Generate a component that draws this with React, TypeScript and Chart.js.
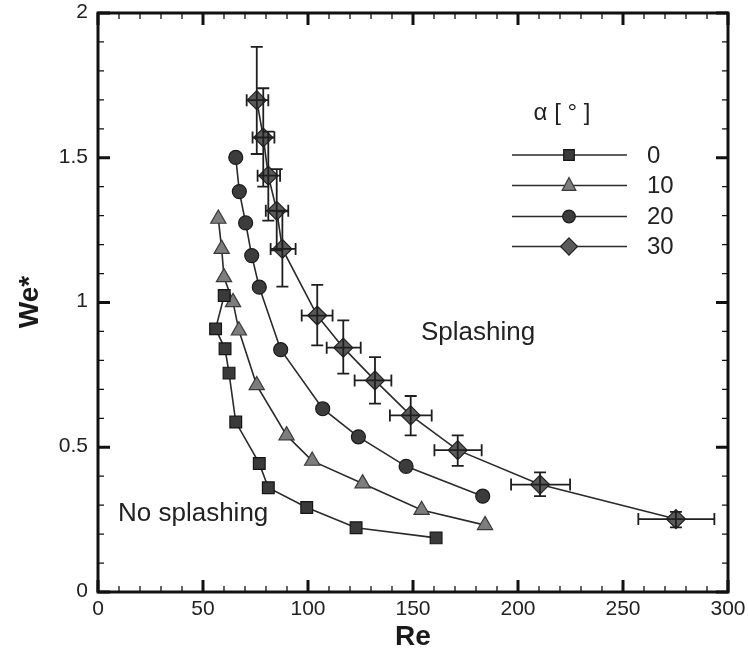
import React, { useEffect, useRef } from "react";
import { Chart, registerables } from "chart.js";

Chart.register(...registerables);

// ---- data ----
const seriesLabels = ["0", "10", "20", "30"];

const re0 = [60.1, 56.0, 60.5, 62.4, 65.6, 76.8, 81.1, 99.4, 122.9, 161.0];
const we0 = [1.024, 0.909, 0.84, 0.756, 0.587, 0.444, 0.36, 0.292, 0.222, 0.187];

const re10 = [57.3, 58.9, 60.0, 64.3, 67.1, 75.6, 89.8, 102.0, 126.0, 154.1, 184.3];
const we10 = [1.289, 1.185, 1.087, 1.001, 0.903, 0.714, 0.541, 0.453, 0.375, 0.283, 0.231];

const re20 = [65.6, 67.3, 70.3, 73.2, 76.8, 87.0, 107.0, 124.0, 146.7, 183.2];
const we20 = [1.501, 1.383, 1.275, 1.162, 1.053, 0.837, 0.633, 0.536, 0.434, 0.331];

const re30 = [75.6, 78.7, 81.1, 85.1, 87.8, 104.4, 116.8, 131.9, 148.9, 171.3, 210.5, 275.2];
const we30 = [1.699, 1.57, 1.438, 1.317, 1.185, 0.955, 0.844, 0.731, 0.61, 0.49, 0.371, 0.252];
const re30Lo = [70.8, 73.6, 76.0, 79.9, 82.2, 97.0, 108.9, 122.2, 139.0, 160.2, 196.7, 257.3];
const re30Hi = [81.1, 84.0, 86.7, 90.6, 94.1, 111.7, 125.1, 139.7, 158.9, 182.7, 224.8, 293.5];
const we30Lo = [1.513, 1.4, 1.283, 1.18, 1.055, 0.852, 0.754, 0.651, 0.541, 0.436, 0.331, 0.223];
const we30Hi = [1.883, 1.74, 1.59, 1.461, 1.315, 1.061, 0.938, 0.811, 0.677, 0.541, 0.413, 0.277];

const xTickValues = [0, 50, 100, 150, 200, 250, 300];
const xTickLabels = ["0", "50", "100", "150", "200", "250", "300"];
const yTickValues = [0, 0.5, 1, 1.5, 2];
const yTickLabels = ["0", "0.5", "1", "1.5", "2"];

const xMin = 0, xMax = 300, xMajor = 50, xMinor = 10;
const yMin = 0, yMax = 2, yMajor = 0.5, yMinor = 0.1;

const FONT = "'Liberation Sans', Arial, Helvetica, sans-serif";
const LINE = "#2a2a2a";

const toPts = (xs: number[], ys: number[]) => xs.map((x, i) => ({ x, y: ys[i] }));

const styles = [
  { pointStyle: "rect", radius: 8.3, fill: "#3a3a3a", stroke: "#151515" },
  { pointStyle: "triangle", radius: 8.8, fill: "#7d7d7d", stroke: "#3a3a3a" },
  { pointStyle: "circle", radius: 7, fill: "#3c3c3c", stroke: "#1a1a1a" },
  { pointStyle: "rectRot", radius: 9.5, fill: "#5a5a5a", stroke: "#222222" },
];

function drawMarker(ctx: CanvasRenderingContext2D, style: string, x: number, y: number, r: number) {
  ctx.beginPath();
  if (style === "rect") {
    const s = Math.SQRT1_2 * r;
    ctx.rect(x - s, y - s, 2 * s, 2 * s);
  } else if (style === "triangle") {
    ctx.moveTo(x, y - r);
    ctx.lineTo(x + r * 0.866, y + r * 0.5 + 1);
    ctx.lineTo(x - r * 0.866, y + r * 0.5 + 1);
    ctx.closePath();
  } else if (style === "circle") {
    ctx.arc(x, y, r, 0, Math.PI * 2);
  } else {
    ctx.moveTo(x, y - r);
    ctx.lineTo(x + r, y);
    ctx.lineTo(x, y + r);
    ctx.lineTo(x - r, y);
    ctx.closePath();
  }
  ctx.fill();
  ctx.stroke();
}

const framePlugin = {
  id: "frame",
  afterDatasetsDraw(chart: any) {
    const ctx: CanvasRenderingContext2D = chart.ctx;
    const xs = chart.scales.x;
    const ys = chart.scales.y;
    ctx.save();
    ctx.strokeStyle = "#1e1e1e";
    ctx.lineWidth = 1.8;
    const cap = 6;
    for (let i = 0; i < re30.length; i++) {
      const px = xs.getPixelForValue(re30[i]);
      const py = ys.getPixelForValue(we30[i]);
      const y1 = ys.getPixelForValue(we30Lo[i]);
      const y2 = ys.getPixelForValue(we30Hi[i]);
      const x1 = xs.getPixelForValue(re30Lo[i]);
      const x2 = xs.getPixelForValue(re30Hi[i]);
      ctx.beginPath();
      ctx.moveTo(px, y1); ctx.lineTo(px, y2);
      ctx.moveTo(px - cap, y1); ctx.lineTo(px + cap, y1);
      ctx.moveTo(px - cap, y2); ctx.lineTo(px + cap, y2);
      ctx.moveTo(x1, py); ctx.lineTo(x2, py);
      ctx.moveTo(x1, py - cap); ctx.lineTo(x1, py + cap);
      ctx.moveTo(x2, py - cap); ctx.lineTo(x2, py + cap);
      ctx.stroke();
    }
    ctx.restore();
  },
  afterDraw(chart: any) {
    const ctx: CanvasRenderingContext2D = chart.ctx;
    const { left, right, top, bottom } = chart.chartArea;
    const xs = chart.scales.x;
    const ys = chart.scales.y;
    ctx.save();
    ctx.strokeStyle = "#111";
    ctx.lineCap = "butt";
    const nx = Math.round((xMax - xMin) / xMinor);
    for (let i = 0; i <= nx; i++) {
      const v = xMin + i * xMinor;
      const major = Math.abs(v / xMajor - Math.round(v / xMajor)) < 1e-6;
      const p = xs.getPixelForValue(v);
      const L = major ? 12 : 6;
      ctx.lineWidth = major ? 3 : 1.3;
      ctx.beginPath();
      ctx.moveTo(p, bottom); ctx.lineTo(p, bottom - L);
      ctx.moveTo(p, top); ctx.lineTo(p, top + L);
      ctx.stroke();
    }
    const ny = Math.round((yMax - yMin) / yMinor);
    for (let i = 0; i <= ny; i++) {
      const v = yMin + i * yMinor;
      const major = Math.abs(v / yMajor - Math.round(v / yMajor)) < 1e-6;
      const p = ys.getPixelForValue(v);
      const L = major ? 12 : 6;
      ctx.lineWidth = major ? 3 : 1.3;
      ctx.beginPath();
      ctx.moveTo(left, p); ctx.lineTo(left + L, p);
      ctx.moveTo(right, p); ctx.lineTo(right - L, p);
      ctx.stroke();
    }
    ctx.lineWidth = 3;
    ctx.strokeRect(left, top, right - left, bottom - top);

    // tick labels
    ctx.fillStyle = "#222";
    ctx.font = `21px ${FONT}`;
    ctx.textAlign = "center";
    ctx.textBaseline = "top";
    xTickValues.forEach((v, i) => {
      ctx.fillText(xTickLabels[i], xs.getPixelForValue(v), bottom + 7);
    });
    ctx.textAlign = "right";
    ctx.textBaseline = "middle";
    yTickValues.forEach((v, i) => {
      ctx.fillText(yTickLabels[i], left - 10, ys.getPixelForValue(v) - 1);
    });

    // axis titles
    ctx.fillStyle = "#1a1a1a";
    ctx.font = `bold 28px ${FONT}`;
    ctx.textAlign = "center";
    ctx.textBaseline = "middle";
    ctx.fillText("Re", (left + right) / 2, 637);
    ctx.save();
    ctx.translate(30, 302);
    ctx.rotate(-Math.PI / 2);
    ctx.fillText("We*", 0, 0);
    ctx.restore();

    // region labels
    ctx.font = `26px ${FONT}`;
    ctx.fillStyle = "#222";
    ctx.textAlign = "left";
    ctx.fillText("Splashing", 421, 333);
    ctx.fillText("No splashing", 118, 514);

    // legend
    ctx.font = `24px ${FONT}`;
    ctx.textAlign = "center";
    ctx.fillText("\u03b1 [ \u00b0 ]", 562, 113);
    const rows = [155, 185.5, 216.5, 246.5];
    ctx.textAlign = "left";
    for (let k = 0; k < 4; k++) {
      const y = rows[k];
      ctx.strokeStyle = LINE;
      ctx.lineWidth = 1.6;
      ctx.beginPath();
      ctx.moveTo(512, y); ctx.lineTo(627, y);
      ctx.stroke();
      ctx.fillStyle = styles[k].fill;
      ctx.strokeStyle = styles[k].stroke;
      ctx.lineWidth = 1.2;
      drawMarker(ctx, styles[k].pointStyle, 569, y, styles[k].radius * 0.9);
      ctx.fillStyle = "#222";
      ctx.fillText(seriesLabels[k], 647, y + 1);
    }
    ctx.restore();
  },
};

export default function App() {
  const ref = useRef<HTMLCanvasElement | null>(null);
  useEffect(() => {
    if (!ref.current) return;
    const sets = [toPts(re0, we0), toPts(re10, we10), toPts(re20, we20), toPts(re30, we30)];
    const chart = new Chart(ref.current, {
      type: "scatter",
      data: {
        datasets: sets.map((d, k) => ({
          label: seriesLabels[k],
          data: d,
          showLine: true,
          borderColor: LINE,
          borderWidth: 1.6,
          pointStyle: styles[k].pointStyle as any,
          pointRadius: styles[k].radius,
          pointBackgroundColor: styles[k].fill,
          pointBorderColor: styles[k].stroke,
          pointBorderWidth: 1.2,
          tension: 0,
        })),
      },
      options: {
        animation: false,
        responsive: false,
        maintainAspectRatio: false,
        layout: { padding: { left: 0, right: 20, top: 13, bottom: 0 } },
        plugins: { legend: { display: false }, tooltip: { enabled: false } },
        scales: {
          x: {
            type: "linear",
            min: xMin,
            max: xMax,
            grid: { display: false, drawTicks: false },
            border: { display: false },
            ticks: { display: false, stepSize: xMajor },
            afterFit: (s: any) => { s.height = 64; },
          },
          y: {
            type: "linear",
            min: yMin,
            max: yMax,
            grid: { display: false, drawTicks: false },
            border: { display: false },
            ticks: { display: false, stepSize: yMajor },
            afterFit: (s: any) => { s.width = 98; },
          },
        },
      },
      plugins: [framePlugin],
    });
    return () => chart.destroy();
  }, []);
  return (
    <div style={{ position: "fixed", left: 0, top: 0, width: 748, height: 656, background: "#fff" }}>
      <canvas ref={ref} width={748} height={656} style={{ display: "block" }} />
    </div>
  );
}
